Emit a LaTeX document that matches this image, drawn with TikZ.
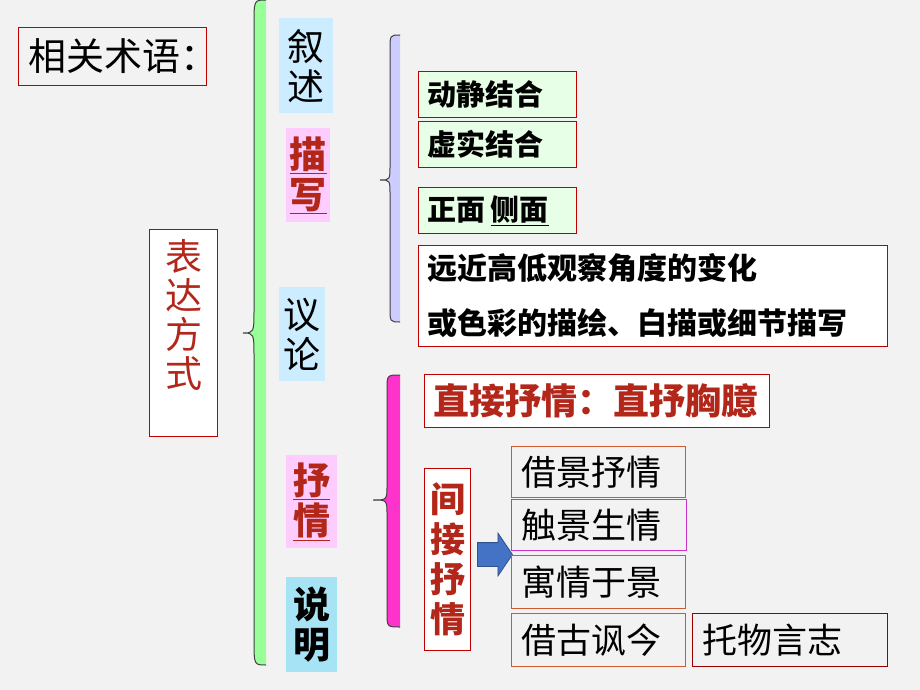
\documentclass[tikz,border=0pt]{standalone}
\usepackage{fontspec}
\setmainfont{Noto Sans CJK SC}
\usetikzlibrary{shapes.arrows}

\definecolor{bggray}{HTML}{F2F2F2}
\definecolor{boxred}{HTML}{C00000}
\definecolor{txtred}{HTML}{B3261A}
\definecolor{skyfill}{HTML}{CCECFF}
\definecolor{cyanfill}{HTML}{A6E3F5}
\definecolor{pinkfill}{HTML}{FFCCFF}
\definecolor{mintfill}{HTML}{E6FFE6}
\definecolor{bracegreen}{HTML}{99FF99}
\definecolor{bracelilac}{HTML}{CCCCFF}
\definecolor{bracepink}{HTML}{FF33CC}
\definecolor{rustline}{HTML}{D05A30}
\definecolor{violetline}{HTML}{CC33CC}
\definecolor{arrowblue}{HTML}{4472C4}
\definecolor{arrowedge}{HTML}{2F528F}

\newcommand{\cjksize}[2]{\fontsize{#1}{#2}\selectfont}

\tikzset{
  anybox/.style={rectangle, anchor=north west, inner sep=0pt},
  redbox/.style={anybox, draw=boxred, line width=1pt},
  tagbox/.style={anybox, align=center, text width=#1},
  leftbox/.style={redbox, align=left, inner xsep=9pt, text width=#1},
  scenebox/.style={anybox, draw=#1, line width=1pt, align=left, inner xsep=10pt},
  blockarrow/.style={single arrow, draw=arrowedge, fill=arrowblue, line width=.8pt,
    inner sep=11.5pt, single arrow head extend=9.5pt, single arrow tip angle=112,
    minimum height=35pt, anchor=west}
}

\begin{document}
\begin{tikzpicture}[x=1pt, y=-1pt]
\useasboundingbox (0,0) rectangle (920,690);
\fill[bggray] (0,0) rectangle (920,690);

% braces
\foreach \xr/\xm/\xl/\yt/\ym/\yb/\r/\col in {266/254/243/0/333/665/25/bracegreen,
    400/390/380/35/180/322/15/bracelilac, 400/387/373/375/500/627/15/bracepink}
{
    \fill[\col] (\xr,\yt) .. controls (\xm,\yt) .. (\xm,\yt+\r) -- (\xm,\ym-\r)
        .. controls (\xm,\ym) .. (\xl,\ym) .. controls (\xm,\ym) .. (\xm,\ym+\r)
        -- (\xm,\yb-\r) .. controls (\xm,\yb) .. (\xr,\yb) -- cycle;
    \draw[black!75, line width=1pt] (\xr,\yt) .. controls (\xm,\yt) .. (\xm,\yt+\r) -- (\xm,\ym-\r)
        .. controls (\xm,\ym) .. (\xl,\ym) .. controls (\xm,\ym) .. (\xm,\ym+\r)
        -- (\xm,\yb-\r) .. controls (\xm,\yb) .. (\xr,\yb);
}

\node[leftbox=168pt, inner xsep=10pt, minimum height=58pt, font=\cjksize{38}{40}] (terms) at (18,27) {相关术语：};
\node[redbox, fill=white, align=center, text width=68pt, minimum height=207pt, text=txtred,
    font=\cjksize{37}{39}] (method) at (149,229) {表\\达\\方\\式\\\mbox{}};

% the five ways
\node[tagbox=54pt, fill=skyfill, minimum height=95pt, font=\cjksize{37}{40}] (narr) at (279,18) {叙\\述};
\node[tagbox=44pt, fill=pinkfill, minimum height=94pt, text=txtred, font=\cjksize{37}{40}\bfseries]
    (desc) at (286,128) {\underline{描}\\\underline{写}};
\node[tagbox=46pt, fill=skyfill, minimum height=94pt, font=\cjksize{37}{40}] (disc) at (279,287) {议\\论};
\node[tagbox=51pt, fill=pinkfill, minimum height=93pt, text=txtred, font=\cjksize{37}{40}\bfseries]
    (lyric) at (286,455) {\underline{抒}\\\underline{情}};
\node[tagbox=51pt, fill=cyanfill, minimum height=95pt, font=\cjksize{37}{40}\bfseries] (expo) at (286,577) {说\\明};

% ways of describing
\node[leftbox=140pt, fill=mintfill, minimum height=46pt, font=\cjksize{29}{30}\bfseries] (dyn) at (418,71) {动静结合};
\node[leftbox=140pt, fill=mintfill, minimum height=46pt, font=\cjksize{29}{30}\bfseries] (real) at (418,121) {虚实结合};
\node[leftbox=140pt, fill=mintfill, minimum height=46pt, font=\cjksize{29}{30}\bfseries] (side) at (418,187)
    {正面\hspace{5pt}\underline{侧面}};
\node[leftbox=451pt, fill=white, minimum height=101pt, font=\cjksize{30}{55}\bfseries] (angle) at (418,245)
    {远近高低观察角度的变化\\或色彩的描绘、白描或细节描写};

% ways of expressing feeling
\node[leftbox=327pt, fill=white, minimum height=53pt, text=txtred, font=\cjksize{36}{38}\bfseries]
    (direct) at (424,374) {直接抒情：直抒胸臆};
\node[redbox, fill=white, align=center, text width=46pt, minimum height=182pt, text=txtred,
    font=\cjksize{35}{40}\bfseries] (indirect) at (424,468) {间\\接\\抒\\情};
\node[blockarrow] (arr) at ([xshift=6pt, yshift=5pt]indirect.east) {};

\node[scenebox=rustline, text width=154pt, minimum height=51pt, font=\cjksize{35}{36}] (scene) at (511,446) {借景抒情};
\node[scenebox=violetline, text width=155pt, minimum height=51pt, font=\cjksize{35}{36}] (touch) at (511,499) {触景生情};
\node[scenebox=rustline, text width=154pt, minimum height=53pt, font=\cjksize{35}{36}] (lodge) at (511,555) {寓情于景};
\node[scenebox=rustline, text width=154pt, minimum height=53pt, font=\cjksize{35}{36}] (past) at (511,613) {借古讽今};
\node[scenebox=boxred!80!black, text width=175pt, minimum height=53pt, font=\cjksize{35}{36}] (object) at (692,613) {托物言志};
\end{tikzpicture}
\end{document}
